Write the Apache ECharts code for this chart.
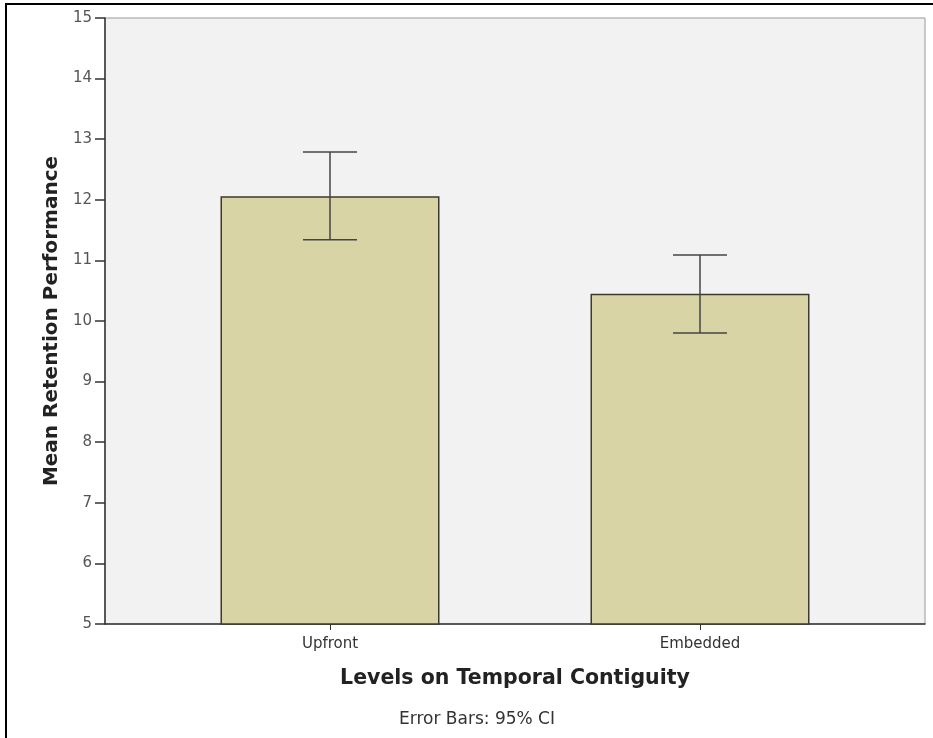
<!DOCTYPE html>
<html><head><meta charset="utf-8">
<script src="https://cdn.jsdelivr.net/npm/echarts@6/dist/echarts.min.js"></script>
<style>html,body{margin:0;padding:0;background:#fff}#c{width:933px;height:738px}</style>
</head><body><div id="c"></div>
<script>
const categories = ['Upfront', 'Embedded'];
const means = [12.06, 10.45];
const ciLow = [11.34, 9.80];
const ciHigh = [12.79, 11.09];
const yTicks = [5, 6, 7, 8, 9, 10, 11, 12, 13, 14, 15];

const chart = echarts.init(document.getElementById('c'));
const font = 'DejaVu Sans';
const option = {
  animation: false,
  textStyle: { fontFamily: font },
  graphic: [
    { type: 'polyline', shape: { points: [[6, 740], [6, 4], [940, 4]] }, style: { stroke: '#000', lineWidth: 2, fill: null } },
    { type: 'text', x: 477, y: 720, style: { text: 'Error Bars: 95% CI', font: '17px "DejaVu Sans"', fill: '#333', align: 'center', verticalAlign: 'middle' } }
  ],
  grid: [
    { left: 105, right: 8, top: 18, bottom: 114, show: true, backgroundColor: '#f2f2f2', borderColor: '#999', borderWidth: 1 },
    { left: 145, right: 48, top: 18, bottom: 114 }
  ],
  xAxis: [
    { gridIndex: 0, type: 'category', data: ['', ''], axisLine: { lineStyle: { color: '#333', width: 1.5 } }, axisTick: { show: false }, axisLabel: { show: false } },
    { gridIndex: 1, type: 'category', data: categories,
      axisLine: { show: false },
      axisTick: { show: true, alignWithLabel: true, length: 6, lineStyle: { color: '#333' } },
      axisLabel: { color: '#333', fontSize: 15, margin: 13, fontFamily: font },
      name: 'Levels on Temporal Contiguity', nameLocation: 'middle', nameGap: 44,
      nameTextStyle: { fontSize: 20.5, fontWeight: 'bold', color: '#222', fontFamily: font } }
  ],
  yAxis: [
    { gridIndex: 0, type: 'value', min: 5, max: 15, interval: 1,
      axisLine: { show: true, lineStyle: { color: '#333', width: 1.5 } },
      axisTick: { show: true, length: 10, lineStyle: { color: '#333', width: 1.5 } },
      axisLabel: { color: '#555', fontSize: 15, margin: 13, fontFamily: font, formatter: v => yTicks.includes(v) ? String(v) : '' },
      splitLine: { show: false },
      name: 'Mean Retention Performance', nameLocation: 'middle', nameGap: 42, nameRotate: 90,
      nameTextStyle: { fontSize: 20, fontWeight: 'bold', color: '#222', fontFamily: font } },
    { gridIndex: 1, type: 'value', min: 5, max: 15, interval: 1, show: false, splitLine: { show: false } }
  ],
  series: [
    { type: 'bar', xAxisIndex: 1, yAxisIndex: 1, data: means, barWidth: 219,
      itemStyle: { color: '#d9d4a5', borderColor: '#3a3a30', borderWidth: 1.5 } },
    { type: 'custom', xAxisIndex: 1, yAxisIndex: 1,
      data: categories.map((c, i) => [i, ciLow[i], ciHigh[i]]),
      renderItem: function (params, api) {
        const lo = api.coord([api.value(0), api.value(1)]);
        const hi = api.coord([api.value(0), api.value(2)]);
        const hw = 27;
        const st = { stroke: '#444', lineWidth: 1.5 };
        return { type: 'group', children: [
          { type: 'line', shape: { x1: hi[0], y1: hi[1], x2: lo[0], y2: lo[1] }, style: st },
          { type: 'line', shape: { x1: hi[0] - hw, y1: hi[1], x2: hi[0] + hw, y2: hi[1] }, style: st },
          { type: 'line', shape: { x1: lo[0] - hw, y1: lo[1], x2: lo[0] + hw, y2: lo[1] }, style: st }
        ] };
      }, z: 5 }
  ]
};
chart.setOption(option);
</script></body></html>
